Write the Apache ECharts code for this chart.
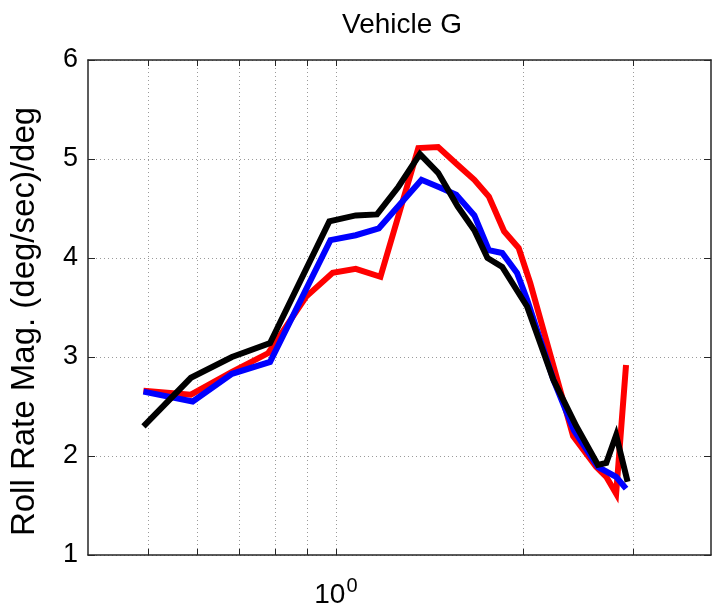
<!DOCTYPE html>
<html>
<head>
<meta charset="utf-8">
<script src="https://cdn.jsdelivr.net/npm/echarts@6/dist/echarts.min.js"></script>
<style>
html,body{margin:0;padding:0;background:#fff;}
#chartMain{width:712px;height:615px;}
</style>
</head>
<body>
<div id="chartMain"></div>
<script>
// 数据（频率 Hz，幅值 (deg/sec)/deg）
var redFreq   = [0.491,0.585,0.681,0.779,0.896,0.988,1.076,1.179,1.356,1.459,1.569,1.668,1.760,1.862,1.965,2.050,2.403,2.616,2.716,2.817,2.922];
var redMag    = [2.66,2.62,2.85,3.04,3.61,3.85,3.89,3.81,5.11,5.12,4.94,4.79,4.62,4.27,4.10,3.75,2.20,1.89,1.79,1.62,2.92];
var blueFreq  = [0.491,0.589,0.681,0.784,0.980,1.076,1.172,1.372,1.459,1.560,1.668,1.760,1.849,1.953,2.027,2.234,2.410,2.634,2.817,2.922];
var blueMag   = [2.65,2.55,2.83,2.95,4.18,4.23,4.30,4.79,4.72,4.64,4.43,4.08,4.05,3.85,3.58,2.77,2.26,1.89,1.79,1.67];
var blackFreq = [0.491,0.585,0.681,0.784,0.976,1.076,1.164,1.260,1.364,1.459,1.569,1.668,1.751,1.849,2.027,2.234,2.432,2.634,2.716,2.817,2.939];
var blackMag  = [2.30,2.79,3.00,3.14,4.37,4.43,4.44,4.72,5.05,4.86,4.52,4.28,4.00,3.91,3.51,2.77,2.30,1.91,1.93,2.21,1.74];
var xTicks = [0.5,0.6,0.7,0.8,0.9,1,2,3];

function fnPairs(xs,ys){
    var arr = [];
    for(var i=0;i<xs.length;i++){
        arr.push([xs[i],ys[i]]);
    }
    return arr;
}

var axisColor = '#262626';
var gridLine = {show:true,lineStyle:{color:'#9a9a9a',width:1,type:[1,3]}};

function fnXAxis(pos,showLabel){
    return {
        type:'log',
        position:pos,
        min:0.4,
        max:4,
        axisLine:{show:true,onZero:false,lineStyle:{color:axisColor,width:1.5}},
        axisTick:{show:true,inside:true,length:6,customValues:xTicks,lineStyle:{color:axisColor}},
        splitLine:showLabel?gridLine:{show:false},
        minorTick:{show:false},
        axisLabel:{
            show:showLabel,
            customValues:[1],
            margin:21,
            formatter:function(v){return v==1?'{b|10}{s|0}':'';},
            rich:{
                b:{fontSize:28,color:'#000',fontFamily:'Liberation Sans'},
                s:{fontSize:20,color:'#000',fontFamily:'Liberation Sans',padding:[0,0,18,1]}
            }
        }
    };
}

function fnYAxis(pos,showLabel){
    return {
        type:'value',
        position:pos,
        min:1,
        max:6,
        interval:1,
        name:showLabel?'Roll Rate Mag. (deg/sec)/deg':'',
        nameLocation:'middle',
        nameGap:47,
        nameTextStyle:{fontSize:33,color:'#000',fontFamily:'Liberation Sans',padding:[0,28,0,0]},
        axisLine:{show:true,lineStyle:{color:axisColor,width:1.5}},
        axisTick:{show:true,inside:true,length:7,lineStyle:{color:axisColor}},
        splitLine:showLabel?gridLine:{show:false},
        axisLabel:{show:showLabel,fontSize:27,color:'#000',margin:10,fontFamily:'Liberation Sans'}
    };
}

function fnLine(name,color,xs,ys){
    return {
        name:name,
        type:'line',
        data:fnPairs(xs,ys),
        symbol:'none',
        lineStyle:{color:color,width:6,join:'miter'},
        itemStyle:{color:color}
    };
}

var myChart = echarts.init(document.getElementById('chartMain'));
myChart.setOption({
    backgroundColor:'#fff',
    animation:false,
    title:{
        text:'Vehicle G',
        left:397,
        top:6,
        textAlign:'center',
        textStyle:{fontSize:28,fontWeight:'normal',color:'#000',fontFamily:'Liberation Sans'}
    },
    grid:{left:86,right:1,top:60,bottom:60},
    xAxis:[fnXAxis('bottom',true),fnXAxis('top',false)],
    yAxis:[fnYAxis('left',true),fnYAxis('right',false)],
    series:[
        fnLine('red','#ff0000',redFreq,redMag),
        fnLine('blue','#0000ff',blueFreq,blueMag),
        fnLine('black','#000000',blackFreq,blackMag)
    ]
});
</script>
</body>
</html>
